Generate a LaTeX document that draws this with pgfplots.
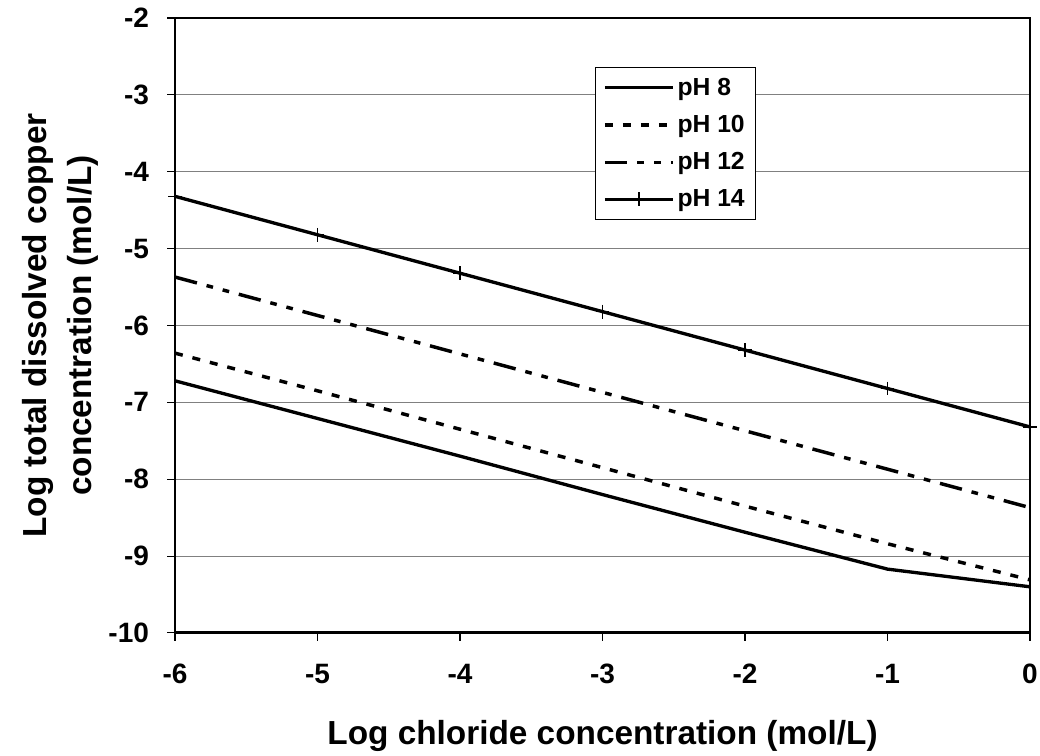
\documentclass[border=0pt]{standalone}
\usepackage{pgfplots}
\pgfplotsset{compat=1.18}
\usepackage{fontspec}
\setmainfont{Liberation Sans}
\begin{document}
\begin{tikzpicture}
\begin{axis}[
  name=ax,
  scale only axis,
  width=641pt, height=461pt,
  xmin=-6, xmax=0, ymin=-10, ymax=-2,
  xtick={-6,-5,...,0}, ytick={-10,-9,...,-2},
  tick align=outside,
  major tick length=6pt,
  tick style={black, line width=0.8pt},
  axis line style={line width=2.2pt},
  ymajorgrids,
  grid style={gray, line width=0.8pt},
  xtick pos=bottom, ytick pos=left,
  /pgf/number format/assume math mode=true,
  tick label style={font=\fontsize{21}{25}\selectfont\bfseries},
  yticklabel style={xshift=-10pt},
  xticklabel style={yshift=-14pt},
  label style={font=\fontsize{25}{34}\selectfont\bfseries},
  xlabel={Log chloride concentration (mol/L)},
  ylabel={Log total dissolved copper\\concentration (mol/L)},
  ylabel style={align=center, at={(rel axis cs:-0.0835,0.5)}, anchor=south, rotate=0},
  xlabel style={at={(rel axis cs:0.5,-0.182)}, anchor=base},
  legend style={at={(rel axis cs:0.491,0.920)}, anchor=north west,
    draw=black, font=\fontsize{18.5}{21}\selectfont\bfseries,
    inner xsep=6pt, inner ysep=6pt, row sep=9.5pt,
    /tikz/every even column/.append style={column sep=4pt}},
  legend cell align=left,
  legend image code/.code={\draw[mark repeat=2, mark phase=2, #1] plot coordinates {(0cm,0cm) (0.9cm,0cm) (1.8cm,0cm)};},
  clip mode=individual,
]
\addplot[black, line width=2.5pt] coordinates {(-6,-6.72) (-5,-7.21) (-4,-7.70) (-3,-8.20) (-2,-8.69) (-1,-9.17) (0,-9.40)};
\addlegendentry{pH 8}
\addplot[black, line width=2.6pt, dash pattern=on 6pt off 7.5pt] coordinates {(-6,-6.36) (-5,-6.85) (-4,-7.35) (-3,-7.85) (-2,-8.35) (-1,-8.84) (0,-9.31)};
\addlegendentry{pH 10}
\addplot[black, line width=2.6pt, dash pattern=on 17pt off 7.5pt on 5pt off 7.5pt on 5pt off 7.5pt] coordinates {(-6,-5.37) (-5,-5.87) (-4,-6.37) (-3,-6.87) (-2,-7.37) (-1,-7.87) (0,-8.37)};
\addlegendentry{pH 12}
\addplot[black, line width=2.5pt, mark=+, mark size=5.2pt, mark options={line width=1pt, solid}] coordinates {(-6,-4.32) (-5,-4.82) (-4,-5.32) (-3,-5.82) (-2,-6.32) (-1,-6.82) (0,-7.32)};
\addlegendentry{pH 14}
\coordinate (bl) at (rel axis cs:-0.2047,-0.2);
\coordinate (tr) at (rel axis cs:1.0117,1.0293);
\end{axis}
\pgfresetboundingbox
\path[use as bounding box] (bl) rectangle (tr);
\end{tikzpicture}
\end{document}
